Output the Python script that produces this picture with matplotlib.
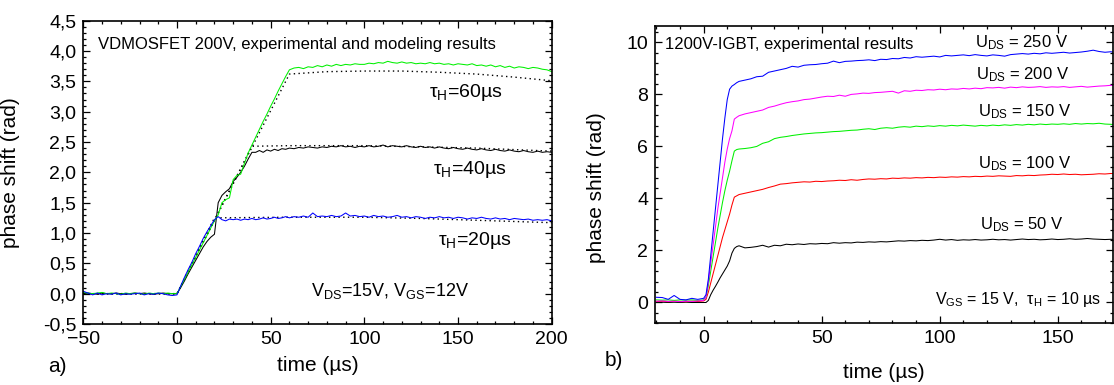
import numpy as np
import matplotlib
matplotlib.use("Agg")
import matplotlib.pyplot as plt
from matplotlib.ticker import MultipleLocator, FuncFormatter

plt.rcParams['font.family'] = ['Liberation Sans', 'DejaVu Sans']
plt.rcParams['mathtext.default'] = 'regular'

# ---------------- Panel a) data ----------------
tL_pre = [-50, -47.5, -45, -42.5, -40, -37.5, -35, -32.5, -30, -27.5, -25, -22.5, -20,
          -17.5, -15, -12.5, -10, -7.5, -5, -2.5, 0]
tL_ramp = [2, 4, 6, 8, 10, 12, 14, 16, 18, 20, 22, 24, 26, 28, 30, 32, 34, 36, 38, 40,
           42, 44, 46, 48, 50, 52, 54, 56, 58, 60]
tL_plat = [62.5, 65, 67.5, 70, 72.5, 75, 77.5, 80, 82.5, 85, 87.5, 90, 92.5, 95, 97.5, 100,
           102.5, 105, 107.5, 110, 112.5, 115, 117.5, 120, 122.5, 125, 127.5, 130, 132.5, 135,
           137.5, 140, 142.5, 145, 147.5, 150, 152.5, 155, 157.5, 160, 162.5, 165, 167.5, 170,
           172.5, 175, 177.5, 180, 182.5, 185, 187.5, 190, 192.5, 195, 197.5, 200]
tL = tL_pre + tL_ramp + tL_plat

green60 = ([0.02, 0.01, 0.0, 0.01, 0.02, 0.0, 0.01, 0.0, -0.01, 0.01, 0.0, 0.01, 0.0, -0.01, 0.01,
            0.0, 0.01, 0.0, 0.01, 0.0, 0.0]
           + [0.12, 0.24, 0.36, 0.48, 0.6, 0.72, 0.84, 0.96, 1.08, 1.2, 1.3, 1.5, 1.55, 1.58, 1.88,
              1.95, 1.97, 2.15, 2.32, 2.45, 2.58, 2.71, 2.84, 2.96, 3.09, 3.21, 3.34, 3.46, 3.58, 3.69]
           + [3.72, 3.73, 3.71, 3.74, 3.73, 3.76, 3.74, 3.77, 3.75, 3.78, 3.76, 3.78, 3.77, 3.79,
              3.78, 3.78, 3.80, 3.79, 3.81, 3.80, 3.83, 3.81, 3.80, 3.82, 3.80, 3.81, 3.79, 3.80,
              3.79, 3.81, 3.79, 3.80, 3.78, 3.79, 3.77, 3.79, 3.78, 3.77, 3.79, 3.76, 3.77, 3.75,
              3.77, 3.74, 3.76, 3.73, 3.75, 3.72, 3.74, 3.73, 3.71, 3.73, 3.72, 3.70, 3.69, 3.66])

black40 = ([0.0, 0.01, 0.0, -0.01, 0.01, 0.0, 0.0, 0.01, 0.0, -0.01, 0.0, 0.01, 0.0, 0.01, 0.0,
            -0.01, 0.0, 0.01, 0.0, 0.0, 0.0]
           + [0.1, 0.21, 0.33, 0.44, 0.55, 0.66, 0.77, 0.86, 0.93, 0.98, 1.5, 1.62, 1.68, 1.73, 1.85,
              1.92, 2.0, 2.1, 2.22, 2.33, 2.33, 2.36, 2.33, 2.37, 2.35, 2.38, 2.36, 2.39, 2.38, 2.40]
           + [2.39, 2.41, 2.40, 2.42, 2.41, 2.40, 2.42, 2.41, 2.43, 2.42, 2.44, 2.42, 2.43, 2.41,
              2.43, 2.42, 2.44, 2.42, 2.43, 2.45, 2.42, 2.44, 2.43, 2.42, 2.44, 2.42, 2.41, 2.43,
              2.41, 2.42, 2.40, 2.42, 2.40, 2.39, 2.41, 2.39, 2.38, 2.40, 2.38, 2.37, 2.39, 2.37,
              2.36, 2.38, 2.36, 2.35, 2.37, 2.35, 2.34, 2.36, 2.34, 2.33, 2.35, 2.33, 2.34, 2.33])

blue20 = ([0.04, 0.01, -0.02, 0.01, -0.02, 0.0, -0.01, 0.01, -0.02, 0.0, -0.01, 0.0, 0.01, -0.02,
           0.0, -0.01, 0.01, 0.0, -0.02, -0.03, -0.02]
          + [0.13, 0.27, 0.4, 0.52, 0.66, 0.78, 0.91, 1.02, 1.12, 1.22, 1.27, 1.22, 1.20, 1.23, 1.22,
             1.23, 1.21, 1.23, 1.22, 1.24, 1.22, 1.23, 1.25, 1.23, 1.24, 1.26, 1.24, 1.25, 1.27, 1.25]
          + [1.27, 1.26, 1.28, 1.26, 1.33, 1.27, 1.28, 1.27, 1.29, 1.27, 1.28, 1.33, 1.28, 1.29,
             1.27, 1.28, 1.26, 1.29, 1.27, 1.28, 1.26, 1.27, 1.29, 1.26, 1.27, 1.25, 1.27, 1.26,
             1.24, 1.26, 1.25, 1.27, 1.25, 1.26, 1.24, 1.26, 1.25, 1.23, 1.25, 1.24, 1.26, 1.24,
             1.23, 1.25, 1.23, 1.24, 1.22, 1.24, 1.23, 1.22, 1.23, 1.21, 1.22, 1.21, 1.22, 1.20])

model60_t = [-50, 0, 60, 80, 100, 120, 140, 160, 180, 200]
model60_v = [0.0, 0.0, 3.62, 3.66, 3.67, 3.67, 3.65, 3.62, 3.57, 3.51]
model40_t = [-50, 0, 40, 60, 100, 130, 160, 200]
model40_v = [0.0, 0.0, 2.43, 2.44, 2.44, 2.42, 2.40, 2.35]
model20_t = [-50, 0, 20, 60, 100, 130, 160, 200]
model20_v = [0.0, 0.0, 1.25, 1.26, 1.26, 1.24, 1.21, 1.17]

# ---------------- Panel b) data ----------------
tR_pre = [-20, -17.5, -15, -12.5, -10, -7.5, -5, -2.5, 0]
tR_rise = [1, 2, 3, 4, 5, 6, 7, 8, 9, 10, 11, 12, 13, 14, 15]
tR_plat = [17.5, 20, 22.5, 25, 27.5, 30, 32.5, 35, 37.5, 40, 42.5, 45, 47.5, 50, 52.5, 55,
           57.5, 60, 62.5, 65, 67.5, 70, 72.5, 75, 77.5, 80, 82.5, 85, 87.5, 90, 92.5, 95,
           97.5, 100, 102.5, 105, 107.5, 110, 112.5, 115, 117.5, 120, 122.5, 125, 127.5, 130,
           132.5, 135, 137.5, 140, 142.5, 145, 147.5, 150, 152.5, 155, 157.5, 160, 162.5, 165,
           167.5, 170, 172.5, 175]
tR = tR_pre + tR_rise + tR_plat

u250 = ([0.2, 0.19, 0.12, 0.27, 0.12, 0.1, 0.16, 0.12, 0.16]
        + [0.3, 0.9, 1.8, 2.7, 3.6, 4.5, 5.4, 6.3, 7.1, 7.8, 8.2, 8.32, 8.38, 8.45, 8.5]
        + [8.55, 8.6, 8.68, 8.7, 8.85, 8.9, 8.95, 9.0, 9.08, 9.05, 9.12, 9.14, 9.15, 9.18, 9.2,
           9.28, 9.22, 9.27, 9.28, 9.3, 9.31, 9.33, 9.3, 9.35, 9.34, 9.38, 9.37, 9.42, 9.4, 9.45,
           9.43, 9.45, 9.47, 9.44, 9.5, 9.48, 9.5, 9.52, 9.49, 9.53, 9.5, 9.48, 9.52, 9.5, 9.47,
           9.53, 9.55, 9.57, 9.55, 9.58, 9.56, 9.6, 9.58, 9.6, 9.62, 9.59, 9.61, 9.63, 9.66, 9.7,
           9.65, 9.62, 9.64, 9.6])
u200 = ([0.05, 0.06, 0.04, 0.05, 0.03, 0.05, 0.04, 0.06, 0.08]
        + [0.2, 0.8, 1.5, 2.2, 2.9, 3.6, 4.2, 4.8, 5.4, 5.9, 6.3, 6.6, 7.05, 7.12, 7.18]
        + [7.25, 7.3, 7.35, 7.4, 7.5, 7.55, 7.62, 7.68, 7.72, 7.75, 7.8, 7.82, 7.86, 7.9, 7.93,
           7.92, 7.97, 7.93, 8.0, 8.02, 8.05, 8.04, 8.07, 8.08, 8.1, 8.12, 8.05, 8.14, 8.12, 8.16,
           8.15, 8.18, 8.17, 8.2, 8.18, 8.21, 8.2, 8.23, 8.21, 8.24, 8.22, 8.26, 8.25, 8.27, 8.24,
           8.28, 8.26, 8.29, 8.27, 8.28, 8.3, 8.27, 8.29, 8.28, 8.3, 8.27, 8.29, 8.31, 8.28, 8.3,
           8.32, 8.33, 8.35, 8.33])
u150 = ([0.1, 0.09, 0.1, 0.08, 0.1, 0.09, 0.1, 0.08, 0.1]
        + [0.2, 0.65, 1.2, 1.75, 2.3, 2.85, 3.35, 3.85, 4.3, 4.7, 5.05, 5.45, 5.82, 5.88, 5.9]
        + [5.92, 5.95, 6.0, 6.12, 6.18, 6.3, 6.35, 6.38, 6.42, 6.45, 6.48, 6.5, 6.52, 6.53, 6.55,
           6.57, 6.58, 6.6, 6.62, 6.63, 6.66, 6.68, 6.65, 6.7, 6.72, 6.7, 6.74, 6.76, 6.74, 6.78,
           6.76, 6.79, 6.77, 6.8, 6.78, 6.81, 6.79, 6.82, 6.8, 6.78, 6.81, 6.79, 6.82, 6.8, 6.83,
           6.81, 6.84, 6.82, 6.85, 6.83, 6.86, 6.84, 6.86, 6.85, 6.87, 6.85, 6.88, 6.86, 6.88, 6.87,
           6.89, 6.86, 6.85, 6.83])
u100 = ([0.04, 0.05, 0.03, 0.05, 0.04, 0.03, 0.05, 0.04, 0.06]
        + [0.12, 0.4, 0.75, 1.1, 1.45, 1.8, 2.15, 2.5, 2.8, 3.1, 3.4, 3.75, 4.05, 4.1, 4.15]
        + [4.2, 4.25, 4.3, 4.35, 4.42, 4.48, 4.55, 4.57, 4.6, 4.62, 4.64, 4.63, 4.66, 4.65, 4.67,
           4.68, 4.7, 4.69, 4.72, 4.7, 4.73, 4.75, 4.74, 4.76, 4.75, 4.78, 4.77, 4.79, 4.78, 4.8,
           4.79, 4.81, 4.8, 4.82, 4.81, 4.83, 4.82, 4.84, 4.83, 4.85, 4.84, 4.86, 4.85, 4.87, 4.86,
           4.85, 4.88, 4.87, 4.89, 4.88, 4.9, 4.91, 4.93, 4.92, 4.94, 4.92, 4.93, 4.91, 4.92, 4.93,
           4.95, 4.94, 4.96, 4.95])
u50 = ([0.0, 0.01, 0.0, 0.01, 0.0, 0.01, 0.0, 0.0, 0.0]
       + [0.0, 0.08, 0.3, 0.47, 0.62, 0.78, 0.95, 1.1, 1.25, 1.4, 1.6, 1.9, 2.08, 2.15, 2.18]
       + [2.1, 2.12, 2.15, 2.2, 2.13, 2.2, 2.18, 2.24, 2.22, 2.25, 2.23, 2.26, 2.25, 2.27, 2.26,
          2.3, 2.28, 2.3, 2.29, 2.32, 2.31, 2.33, 2.32, 2.34, 2.33, 2.35, 2.37, 2.36, 2.38, 2.37,
          2.39, 2.38, 2.4, 2.43, 2.4, 2.42, 2.39, 2.41, 2.4, 2.42, 2.4, 2.41, 2.43, 2.41, 2.42,
          2.4, 2.42, 2.44, 2.42, 2.43, 2.41, 2.42, 2.44, 2.42, 2.43, 2.45, 2.43, 2.44, 2.46, 2.44,
          2.43, 2.42, 2.43, 2.41])

# ---------------- Figure ----------------
W, H = 1114, 385
fig = plt.figure(figsize=(W / 100, H / 100), dpi=100)


def px_axes(x0, y0, x1, y1):
    return fig.add_axes([x0 / W, 1 - y1 / H, (x1 - x0) / W, (y1 - y0) / H])


axA = px_axes(83.3, 20.7, 551.7, 324.0)
axB = px_axes(655.0, 26.0, 1113.0, 323.3)

lw = 0.75
GREEN = '#00f000'
dot = (0, (1, 2.4))
axA.plot(model60_t, model60_v, color='black', ls=dot, lw=1.0)
axA.plot(model40_t, model40_v, color='black', ls=dot, lw=1.0)
axA.plot(model20_t, model20_v, color='black', ls=dot, lw=1.0)
axA.plot(tL, black40, color='black', lw=lw)
axA.plot(tL, green60, color=GREEN, lw=lw)
axA.plot(tL, blue20, color='#0000ff', lw=lw)

axB.plot(tR, u50, color='black', lw=lw)
axB.plot(tR, u100, color='#ff0000', lw=lw)
axB.plot(tR, u150, color=GREEN, lw=lw)
axB.plot(tR, u200, color='#ff00ff', lw=lw)
axB.plot(tR, u250, color='#0000ff', lw=lw)

axA.set_xlim(-50, 200)
axA.set_ylim(-0.5, 4.5)
axB.set_xlim(-20.6, 173.4)
axB.set_ylim(-0.8, 10.63)

for ax in (axA, axB):
    ax.tick_params(which='both', direction='in', top=True, right=True, width=0.9)
    ax.tick_params(which='major', length=5, labelsize=14, pad=5)
    ax.tick_params(which='minor', length=2.5)
    for s in ax.spines.values():
        s.set_linewidth(1.2)
    ax.xaxis.set_major_locator(MultipleLocator(50))
    ax.xaxis.set_minor_locator(MultipleLocator(10))

axA.yaxis.set_major_locator(MultipleLocator(0.5))
axA.yaxis.set_minor_locator(MultipleLocator(0.1))
axA.yaxis.set_major_formatter(FuncFormatter(lambda v, p: f"{v:.1f}".replace('.', ',').replace('-0,0', '0,0')))
axB.yaxis.set_major_locator(MultipleLocator(2))
axB.yaxis.set_minor_locator(MultipleLocator(0.4))

axA.set_xlabel('time (µs)', fontsize=15)
axA.set_ylabel('phase shift (rad)', fontsize=15)
axB.set_xlabel('time (µs)', fontsize=15)
axB.set_ylabel('phase shift (rad)', fontsize=15)
axA.xaxis.set_label_coords(0.5, -0.105)
axA.yaxis.set_label_coords(-0.135, 0.5)
axB.xaxis.set_label_coords(0.5, -0.134)
axB.yaxis.set_label_coords(-0.107, 0.455)

# annotations panel a
axA.text(-42, 4.03, 'VDMOSFET 200V, experimental and modeling results', fontsize=12, va='baseline')
axA.text(134.3, 3.24, r'τ$_{H}$=60µs', fontsize=14, va='baseline')
axA.text(136.7, 1.975, r'τ$_{H}$=40µs', fontsize=14, va='baseline')
axA.text(139.5, 0.805, r'τ$_{H}$=20µs', fontsize=14, va='baseline')
axA.text(71.5, -0.045, r'V$_{DS}$=15V, V$_{GS}$=12V', fontsize=13, va='baseline')

# annotations panel b
axB.text(-16.4, 9.76, '1200V-IGBT, experimental results', fontsize=12, va='baseline')
axB.text(115.0, 9.8, r'U$_{DS}$ = 250 V', fontsize=12, va='baseline')
axB.text(115.5, 8.58, r'U$_{DS}$ = 200 V', fontsize=12, va='baseline')
axB.text(116.2, 7.16, r'U$_{DS}$ = 150 V', fontsize=12, va='baseline')
axB.text(116.2, 5.15, r'U$_{DS}$ = 100 V', fontsize=12, va='baseline')
axB.text(117.0, 2.8, r'U$_{DS}$ = 50 V', fontsize=12, va='baseline')
axB.text(168.3, -0.05, r'V$_{GS}$ = 15 V,  τ$_{H}$ = 10 µs', fontsize=11.5, va='baseline', ha='right')

fig.text(57 / W, 1 - 367 / H, 'a)', fontsize=15, ha='center', va='center')
fig.text(614 / W, 1 - 360 / H, 'b)', fontsize=15, ha='center', va='center')

fig.savefig('out.png', dpi=100)
